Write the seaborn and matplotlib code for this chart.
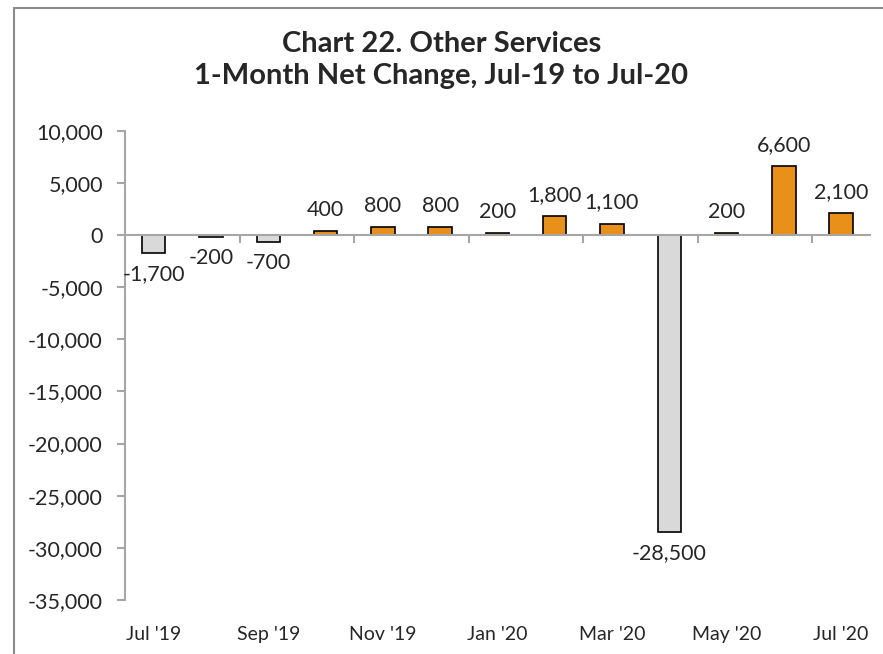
import numpy as np
import pandas as pd
import seaborn as sns
import matplotlib.pyplot as plt
from matplotlib.patches import Rectangle

months = ["Jul '19", "Aug '19", "Sep '19", "Oct '19", "Nov '19", "Dec '19",
          "Jan '20", "Feb '20", "Mar '20", "Apr '20", "May '20", "Jun '20", "Jul '20"]
net_change = [-1700, -200, -700, 400, 800, 800, 200, 1800, 1100, -28500, 200, 6600, 2100]

df = pd.DataFrame({"Month": months, "Change": net_change})
colors_list = ["#E8901A" if v >= 0 else "#D9D9D9" for v in net_change]

sns.set_style("white")
plt.rcParams["font.family"] = ["Lato", "DejaVu Sans"]

fig = plt.figure(figsize=(8.83, 6.54), dpi=100)
ax = fig.add_axes([0.1416, 0.0826, 0.8434, 0.7174])

sns.barplot(x="Month", y="Change", data=df, hue="Month", palette=colors_list,
            legend=False, width=0.41, edgecolor="black", linewidth=1.2, ax=ax,
            saturation=1)

ax.set_ylim(-35000, 10000)
ax.set_xlim(-0.5, len(months) - 0.5)
yticks = np.arange(-35000, 10001, 5000)
ax.set_yticks(yticks)
ax.set_yticklabels([f"{v:,}" for v in yticks], fontsize=15.5)

spine_color = "#A6A6A6"
for side in ["top", "right"]:
    ax.spines[side].set_visible(False)
ax.spines["left"].set_color(spine_color)
ax.spines["left"].set_linewidth(1.5)
ax.spines["bottom"].set_position(("data", 0))
ax.spines["bottom"].set_color(spine_color)
ax.spines["bottom"].set_linewidth(1.5)

# tick marks on the zero line, between every other month
ax.set_xticks(np.arange(1.5, len(months), 2))
ax.set_xticklabels([])
ax.tick_params(axis="x", direction="out", length=6, width=1.5, color=spine_color, bottom=True)
ax.tick_params(axis="y", direction="out", length=6, width=1.5, color=spine_color, left=True, pad=10)
ax.set_xlabel("")
ax.set_ylabel("")

# month labels along the bottom of the plot
sec = ax.secondary_xaxis("bottom")
sec.spines["bottom"].set_visible(False)
sec.set_xticks(np.arange(0, len(months), 2))
sec.set_xticklabels(months[::2], fontsize=14)
sec.tick_params(axis="x", length=0, pad=19)

for p, v in zip(ax.patches, net_change):
    ax.annotate(f"{v:,}", (p.get_x() + p.get_width() / 2.0, v),
                ha="center", va="bottom" if v >= 0 else "top",
                xytext=(0, 8 if v >= 0 else -8), textcoords="offset points",
                fontsize=15.5)

fig.suptitle("Chart 22. Other Services\n1-Month Net Change, Jul-19 to Jul-20",
             fontsize=21, fontweight="bold", y=0.952, linespacing=1.25)

fig.patches.append(Rectangle((14 / 883, -0.1), 1.2, (654 - 8) / 654 + 0.1,
                             transform=fig.transFigure, fill=False,
                             edgecolor="#8C8C8C", linewidth=1.5))

fig.savefig("out.png", dpi=100)
